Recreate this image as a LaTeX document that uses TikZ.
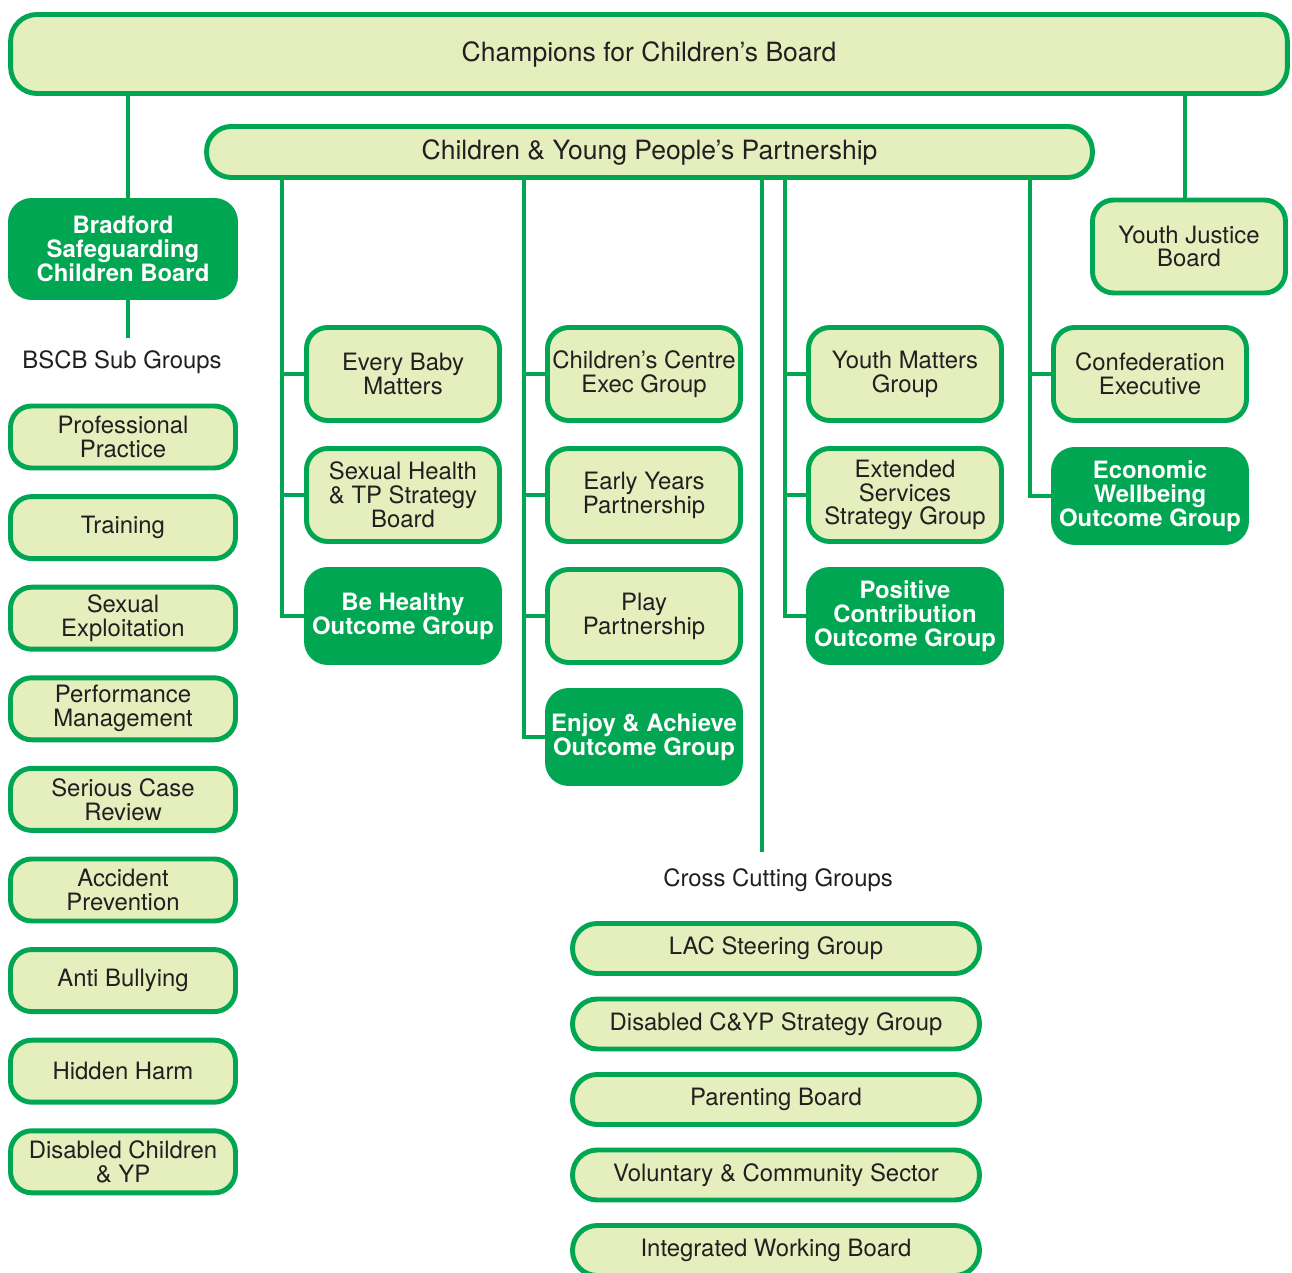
\documentclass[tikz,border=0pt]{standalone}
\usepackage{fontspec}
\setmainfont{TeX Gyre Heros}
\usepackage{xcolor}
\usepackage{tikz}
\definecolor{orggreen}{RGB}{0,166,81}
\definecolor{orgfill}{RGB}{229,238,189}
\definecolor{orgtext}{RGB}{35,31,32}

\begin{document}
\begin{tikzpicture}[
  x=0.02cm,
  y=-0.02cm,
  box/.style={draw=orggreen,fill=orgfill,line width=2.8pt,rounded corners=12pt,
    align=center,text=orgtext,inner sep=0pt,font=\fontsize{13.6}{13.6}\selectfont,
    minimum width=3.86cm,minimum height=1.86cm},
  dark/.style={fill=orggreen,text=white,font=\fontsize{13.6}{13.6}\selectfont\bfseries},
  sub/.style={box,minimum width=4.5cm,minimum height=1.24cm},
  cross/.style={box,minimum width=8.14cm,minimum height=1.0cm,rounded corners=14pt},
  board/.style={box,font=\fontsize{15.1}{15.1}\selectfont,rounded corners=15pt},
  txt/.style={text=orgtext,font=\fontsize{13.6}{13.6}\selectfont},
  link/.style={draw=orggreen,line width=2.3pt}
]
  \useasboundingbox (0,0) rectangle (1292,1273);

  % top boards
  \node[board,minimum width=25.54cm,minimum height=1.58cm] (champ) at (649,54) {Champions for Children’s Board};
  \node[board,minimum width=17.72cm,minimum height=1.02cm,rounded corners=14pt] (cypp) at (649.5,152) {Children \& Young People’s Partnership};
  \node[box,dark,minimum width=4.5cm,minimum height=1.94cm] (bscb) at (123,249) {Bradford\\Safeguarding\\Children Board};
  \node[box] (yjb) at (1189,246.5) {Youth Justice\\Board};

  % BSCB sub groups
  \node[txt] (subhead) at (122,362) {BSCB Sub Groups};
  \foreach \txt [count=\i from 0] in {{Professional\\Practice},Training,{Sexual\\Exploitation},
    {Performance\\Management},{Serious Case\\Review},{Accident\\Prevention},
    Anti Bullying,Hidden Harm,{Disabled Children\\\& YP}}
    \node[sub] (sub\i) at (123,437+\i*90.6) {\txt};

  % partnership groups
  \node[box] (ebm) at (403,374) {Every Baby\\Matters};
  \node[box] (shtp) at (403,495) {Sexual Health\\\& TP Strategy\\Board};
  \node[box,dark] (health) at (403,616) {Be Healthy\\Outcome Group};

  \node[box] (ccentre) at (644,374) {Children’s Centre\\Exec Group};
  \node[box] (eyp) at (644,495) {Early Years\\Partnership};
  \node[box] (play) at (644,616) {Play\\Partnership};
  \node[box,dark] (enjoy) at (644,737) {Enjoy \& Achieve\\Outcome Group};

  \node[box] (ymg) at (905,374) {Youth Matters\\Group};
  \node[box] (extserv) at (905,495) {Extended\\Services\\Strategy Group};
  \node[box,dark] (poscon) at (905,616) {Positive\\Contribution\\Outcome Group};

  \node[box] (confed) at (1150,374) {Confederation\\Executive};
  \node[box,dark] (econ) at (1150,496) {Economic\\Wellbeing\\Outcome Group};

  % cross cutting groups
  \node[txt] (crosshead) at (778,880) {Cross Cutting Groups};
  \foreach \txt [count=\i from 0] in {LAC Steering Group,Disabled C\&YP Strategy Group,
    Parenting Board,Voluntary \& Community Sector,Integrated Working Board}
    \node[cross] (cross\i) at (776,948.5+\i*75.5) {\txt};

  % connectors
  \coordinate (subtop) at (128,338);
  \coordinate (crosstop) at (762,852);
  \draw[link] (128,0 |- champ.south) -- (128,0 |- bscb.north);
  \draw[link] (128,0 |- bscb.south) -- (subtop);
  \draw[link] (1185,0 |- champ.south) -- (1185,0 |- yjb.north);
  \draw[link] (762,0 |- cypp.south) -- (crosstop);

  \coordinate (sp1) at (282,0 |- cypp.south);
  \coordinate (sp2) at (524,0 |- cypp.south);
  \coordinate (sp3) at (785,0 |- cypp.south);
  \coordinate (sp4) at (1030,0 |- cypp.south);
  \draw[link] (sp1) |- (health.west);
  \draw[link] (sp2) |- (enjoy.west);
  \draw[link] (sp3) |- (poscon.west);
  \draw[link] (sp4) |- (econ.west);
  \foreach \n in {ebm,shtp} \draw[link] (sp1 |- \n.west) -- (\n.west);
  \foreach \n in {ccentre,eyp,play} \draw[link] (sp2 |- \n.west) -- (\n.west);
  \foreach \n in {ymg,extserv} \draw[link] (sp3 |- \n.west) -- (\n.west);
  \draw[link] (sp4 |- confed.west) -- (confed.west);
\end{tikzpicture}
\end{document}
